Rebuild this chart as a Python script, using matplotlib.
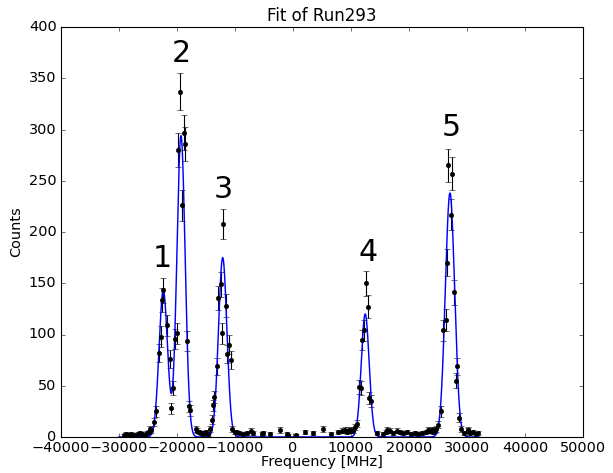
import matplotlib
matplotlib.use('Agg')
import matplotlib.pyplot as plt
import numpy as np

plt.style.use('classic')
plt.rcParams['font.size'] = 13

# measured points (frequency in MHz, counts)
freq = [-29200, -28800, -28400, -28000, -27600, -27200, -26800, -26400, -26000,
        -25600, -25200, -24900, -24656, -24450, -24050, -23600, -23105, -22812,
        -22536, -22363, -21777, -21208, -21036, -20743, -20398, -20002, -19777,
        -19484, -19190, -18847, -18570, -18226, -17880, -17750, -16780, -16500,
        -16200, -15900, -15600, -15300, -15000, -14700, -14312, -14020, -13744,
        -13571, -13157, -12870, -12469, -12296, -12019, -11604, -11330, -10985,
        -10692, -10450, -10002, -9800, -9300, -8700, -8000, -7200, -6900, -5400,
        -5100, -4000, -2300, -1000, -800, 600, 2100, 3450, 5100, 6600, 7800,
        8500, 8900, 9300, 9700, 10000, 10394, 10700, 11083, 11428, 11669, 11945,
        12238, 12582, 12870, 13100, 13393, 14529, 15500, 16000, 16253, 16719,
        17300, 18000, 18444, 19000, 19593, 20300, 21000, 21600, 22300, 22900,
        23300, 23616, 23900, 24200, 24478, 24700, 25049, 25512, 25911, 26325,
        26600, 26773, 27187, 27463, 27753, 28098, 28325, 28670, 28912, 29400,
        30115, 30218, 30600, 31080, 31500, 31942]
counts = [2, 3, 2, 3, 2, 2, 3, 4, 3,
          2, 4, 5, 8, 7, 15, 25, 82, 98,
          134, 143, 109, 76, 28, 48, 96, 101, 280,
          337, 226, 297, 286, 94, 30, 26, 8, 6,
          5, 4, 3, 4, 5, 3, 8, 17, 31,
          39, 69, 136, 149, 101, 208, 128, 81, 90,
          75, 8, 5, 5, 4, 3, 4, 6, 4, 3,
          4, 3, 7, 3, 2, 2, 5, 4, 8, 3, 5,
          6, 7, 5, 7, 6, 7, 10, 13, 49, 48, 95,
          104, 150, 127, 38, 35, 4, 3, 5, 7, 6,
          4, 6, 5, 4, 5, 3, 4, 3, 4, 5,
          7, 6, 7, 5, 7, 8, 12, 25, 104, 114,
          170, 265, 217, 257, 141, 55, 69, 19, 8, 4,
          6, 7, 4, 5, 3, 4]

# fitted gaussian peaks
peak_pos = [-22363, -19312, -12123, 12450, 27064]
peak_amp = [143, 294, 175, 120, 238]
peak_sig = [730, 710, 720, 680, 800]
peak_names = ['1', '2', '3', '4', '5']
label_pos = [(-22587, 160), (-19312, 360), (-12070, 227), (12930, 166), (27236, 288)]

freq = np.array(freq, dtype=float)
counts = np.array(counts, dtype=float)
err = np.sqrt(counts)

xfit = np.linspace(-30000, 32000, 3000)
yfit = np.zeros_like(xfit)
for p, a, s in zip(peak_pos, peak_amp, peak_sig):
    yfit += a * np.exp(-(xfit - p) ** 2 / (2.0 * s ** 2))

fig = plt.figure(figsize=(613 / 80.0, 473 / 80.0), dpi=80, facecolor='w')
ax = fig.add_axes([61 / 613.0, 1 - 437 / 473.0, 522 / 613.0, 410 / 473.0])

ax.errorbar(freq, counts, yerr=err, fmt='k.', ecolor='k', capsize=3, ms=8)
ax.plot(xfit, yfit, 'b-', lw=1.3)

for name, (lx, ly) in zip(peak_names, label_pos):
    ax.text(lx, ly, name, fontsize=27, ha='center', va='bottom')

ax.set_xlim(-40000, 50000)
ax.set_ylim(0, 400)
ax.set_title('Fit of Run293', fontsize=15)
ax.set_xlabel('Frequency [MHz]', labelpad=0)
ax.set_ylabel('Counts')

fig.savefig('out.png', dpi=80, facecolor='w')
